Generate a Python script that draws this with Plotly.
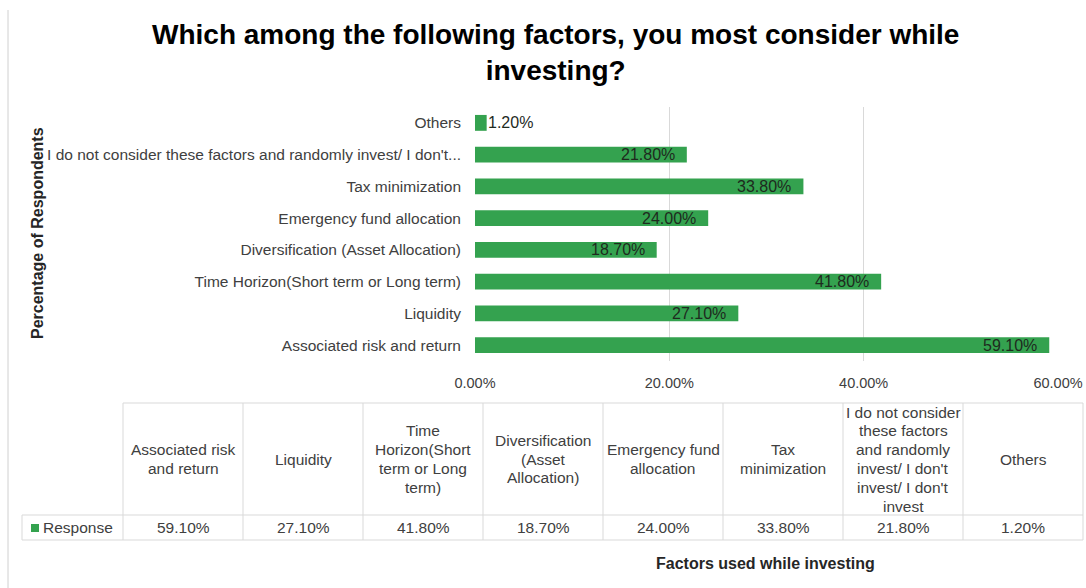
import plotly.graph_objects as go

# Survey responses: factors considered while investing (percent of respondents)
categories = [
    "Associated risk and return",
    "Liquidity",
    "Time Horizon(Short term or Long term)",
    "Diversification (Asset Allocation)",
    "Emergency fund allocation",
    "Tax minimization",
    "I do not consider these factors and randomly invest/ I don't invest/ I don't invest",
    "Others",
]
response = [59.1, 27.1, 41.8, 18.7, 24.0, 33.8, 21.8, 1.2]

# Axis labels (long label is shortened with an ellipsis on the axis)
axis_labels = [
    "Associated risk and return",
    "Liquidity",
    "Time Horizon(Short term or Long term)",
    "Diversification (Asset Allocation)",
    "Emergency fund allocation",
    "Tax minimization",
    "I do not consider these factors and randomly invest/ I don't...",
    "Others",
]

# Wrapped headings for the data table under the chart
table_headers = [
    ["Associated risk", "and return"],
    ["Liquidity"],
    ["Time", "Horizon(Short", "term or Long", "term)"],
    ["Diversification", "(Asset", "Allocation)"],
    ["Emergency fund", "allocation"],
    ["Tax", "minimization"],
    ["I do not consider", "these factors", "and randomly", "invest/ I don't", "invest/ I don't", "invest"],
    ["Others"],
]

x_ticks = [0, 20, 40, 60]
series_name = "Response"

W, H = 1086, 588
GREEN = "#34a24f"
GRID = "#d9d9d9"
TEXT = "#404040"
FONT = "Liberation Sans, Arial, sans-serif"


def px(x):
    return x / W


def py(y):
    return 1 - y / H


fig = go.Figure()

fig.add_trace(go.Bar(
    y=categories,
    x=response,
    orientation="h",
    name=series_name,
    marker=dict(color=GREEN, line=dict(width=0)),
    width=0.5,
    showlegend=False,
    hovertemplate="%{y}: %{x:.2f}%<extra></extra>",
))

shapes = []
annotations = []

# Value labels: inside the bar end, or just past it for very short bars
for cat, v in zip(categories, response):
    inside = v >= 5
    annotations.append(dict(
        xref="x", yref="y", x=v, y=cat,
        text=f"{v:.2f}%", showarrow=False,
        xanchor="right" if inside else "left",
        xshift=-10 if inside else -1,
        yanchor="middle",
        font=dict(family=FONT, size=16, color="#1e2a1e"),
    ))

# Outer frame edge on the left
shapes.append(dict(type="line", xref="paper", yref="paper",
                   x0=px(8), x1=px(8), y0=py(10), y1=py(588),
                   line=dict(color="#d0d0d0", width=1)))

# Title
annotations.append(dict(
    xref="paper", yref="paper", x=px(555), y=py(52.5),
    text="<b>Which among the following factors, you most consider while<br>investing?</b>",
    showarrow=False, xanchor="center", yanchor="middle",
    font=dict(family=FONT, size=28, color="#000000"),
))

# Vertical axis title
annotations.append(dict(
    xref="paper", yref="paper", x=px(37), y=py(233),
    text="<b>Percentage of Respondents</b>", textangle=-90,
    showarrow=False, xanchor="center", yanchor="middle",
    font=dict(family=FONT, size=16, color="#262626"),
))

# Horizontal axis title
annotations.append(dict(
    xref="paper", yref="paper", x=px(765), y=py(563),
    text="<b>Factors used while investing</b>",
    showarrow=False, xanchor="center", yanchor="middle",
    font=dict(family=FONT, size=16, color="#262626"),
))

# Data table
col_left, col_w = 123, 120
top, mid, bottom = 403, 515, 540
leg_left = 22
n = len(categories)
right = col_left + col_w * n
tbl_line = dict(color="#d9d9d9", width=1)
tbl_font = dict(family=FONT, size=15.5, color=TEXT)
line_step = 18.8

shapes.append(dict(type="line", xref="paper", yref="paper",
                   x0=px(col_left), x1=px(right), y0=py(top), y1=py(top), line=tbl_line))
for yy in (mid, bottom):
    shapes.append(dict(type="line", xref="paper", yref="paper",
                       x0=px(leg_left), x1=px(right), y0=py(yy), y1=py(yy), line=tbl_line))
shapes.append(dict(type="line", xref="paper", yref="paper",
                   x0=px(leg_left), x1=px(leg_left), y0=py(mid), y1=py(bottom), line=tbl_line))
for i in range(n + 1):
    xx = col_left + col_w * i
    shapes.append(dict(type="line", xref="paper", yref="paper",
                       x0=px(xx), x1=px(xx), y0=py(top), y1=py(bottom), line=tbl_line))

for i, (hdr, v) in enumerate(zip(table_headers, response)):
    cx = col_left + col_w * (i + 0.5)
    row_mid = (top + mid) / 2
    first = row_mid - line_step * (len(hdr) - 1) / 2
    for k, line in enumerate(hdr):
        annotations.append(dict(
            xref="paper", yref="paper", x=px(cx), y=py(first + k * line_step),
            text=line, showarrow=False, xanchor="center", yanchor="middle",
            font=tbl_font,
        ))
    annotations.append(dict(
        xref="paper", yref="paper", x=px(cx), y=py((mid + bottom) / 2),
        text=f"{v:.2f}%", showarrow=False, xanchor="center", yanchor="middle",
        font=tbl_font,
    ))

# Legend key in the table
shapes.append(dict(type="rect", xref="paper", yref="paper",
                   x0=px(31), x1=px(39), y0=py(524), y1=py(532),
                   fillcolor=GREEN, line=dict(width=0)))
annotations.append(dict(
    xref="paper", yref="paper", x=px(41), y=py((mid + bottom) / 2),
    text=series_name, showarrow=False, xanchor="left", yanchor="middle",
    font=tbl_font,
))

fig.update_layout(
    width=W, height=H,
    margin=dict(l=0, r=0, t=0, b=0),
    paper_bgcolor="white", plot_bgcolor="white",
    font=dict(family=FONT, size=14, color=TEXT),
    shapes=shapes, annotations=annotations,
    xaxis=dict(
        domain=[px(475), px(1058)],
        range=[0, 60],
        tickvals=x_ticks,
        ticktext=[f"{t:.2f}%" for t in x_ticks],
        showgrid=True, gridcolor=GRID, gridwidth=1,
        zeroline=False, showline=False,
        ticks="", ticklabelstandoff=11,
        tickfont=dict(family=FONT, size=14.5, color=TEXT),
        automargin=False, fixedrange=True,
    ),
    yaxis=dict(
        domain=[py(361), py(107)],
        tickvals=categories,
        ticktext=axis_labels,
        showgrid=False, zeroline=False, showline=False,
        ticks="", ticklabelstandoff=13,
        tickfont=dict(family=FONT, size=15.5, color=TEXT),
        automargin=False, fixedrange=True,
    ),
)

fig.write_html("out.html")
